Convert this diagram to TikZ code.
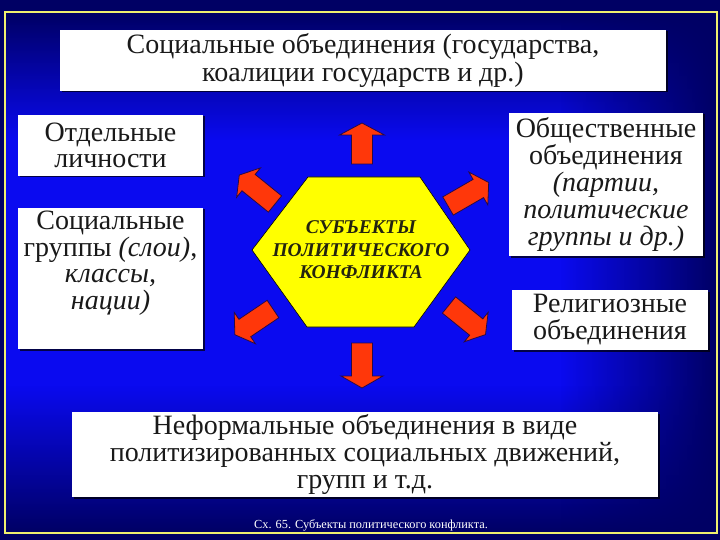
\documentclass[tikz,border=0pt]{standalone}
\usepackage{fontspec}
\setmainfont{Liberation Serif}
\usetikzlibrary{fadings,shadows}
\definecolor{navy}{RGB}{0,0,100}
\definecolor{bgblue}{RGB}{10,10,240}
\definecolor{frameyellow}{RGB}{240,240,110}
\definecolor{arrowred}{RGB}{255,55,10}
\definecolor{arrowedge}{RGB}{40,10,70}
\definecolor{hexyellow}{RGB}{255,255,0}
\definecolor{boxtext}{RGB}{25,25,25}
\definecolor{hexink}{RGB}{35,35,15}
\tikzfading[name=fadetop, top color=transparent!0, bottom color=transparent!100]
\tikzfading[name=fadebottom, top color=transparent!100, bottom color=transparent!0]
\tikzfading[name=faderight, left color=transparent!100, right color=transparent!0]
\tikzset{
  box/.style={fill=white, draw=none, inner sep=0pt, align=center, text=boxtext,
    font=\fontsize{28}{27}\selectfont,
    drop shadow={shadow xshift=1.5pt, shadow yshift=-1.5pt, fill=black, opacity=0.7}},
  boxtxt/.style={inner sep=0pt, align=center, text=boxtext, font=\fontsize{28}{26.5}\selectfont},
  hextext/.style={inner sep=0pt, align=center, font=\fontsize{19.5}{22.5}\selectfont\bfseries\itshape},
  pics/blockarr/.style n args={2}{code={
    \filldraw[fill=arrowred, draw=arrowedge, line width=0.8pt, line join=miter]
      (0,-10.5) -- ({#1-12},-10.5) -- ({#1-12},{-#2/2}) -- (#1,0) -- ({#1-12},{#2/2})
      -- ({#1-12},10.5) -- (0,10.5) -- cycle;
  }}
}
\begin{document}
\begin{tikzpicture}[x=1pt,y=-1pt]
\useasboundingbox (0,0) rectangle (720,540);
% background
\fill[navy] (0,0) rectangle (720,540);
\fill[bgblue] (5,12) rectangle (717,533);
\fill[navy, path fading=fadetop] (5,12) rectangle (717,140);
\fill[navy, path fading=fadebottom] (5,385) rectangle (717,533);
\fill[navy, path fading=faderight] (560,12) rectangle (717,533);
\draw[frameyellow, line width=1.8pt] (5,12) rectangle (717,533);

% boxes
\node[box, minimum width=606pt, minimum height=61pt, font=\fontsize{28}{28}\selectfont] (top) at (363,60.5)
  {Социальные объединения (государства,\\ коалиции государств и др.)};
\node[box, minimum width=185pt, minimum height=61pt, font=\fontsize{28}{26}\selectfont] (lp) at (110.5,145.5)
  {Отдельные\\ личности};
\node[box, minimum width=185pt, minimum height=141pt] (lg) at (110.5,278.5) {};
\node[boxtxt, anchor=north] (lgt) at ([yshift=-3pt]lg.north)
  {Социальные\\ группы \textit{(слои)},\\ \textit{классы,}\\ \textit{нации)}};
\node[box, minimum width=194pt, minimum height=143pt] (ro) at (606,184.5)
  {Общественные\\ объединения\\ \textit{(партии,}\\ \textit{политические}\\ \textit{группы и др.)}};
\node[box, minimum width=196pt, minimum height=60pt] (rr) at (610,320)
  {Религиозные\\ объединения};
\node[box, minimum width=586pt, minimum height=85pt] (bot) at (365,454.5)
  {Неформальные объединения в виде\\ политизированных социальных движений,\\ групп и т.д.};

% arrows
\pic[rotate=90] at (362,164) {blockarr={41}{45}};
\pic[rotate=-90] at (362,343) {blockarr={45}{42}};
\pic[rotate=141] at (275,204) {blockarr={46}{38}};
\pic[rotate=30] at (448,206) {blockarr={47}{38}};
\pic[rotate=214] at (273,309) {blockarr={46}{38}};
\pic[rotate=-39] at (449,305) {blockarr={47}{38}};

% hexagon
\filldraw[fill=hexyellow, draw=black, line width=0.6pt]
  (252,250) -- (308,177) -- (420,177) -- (470,250) -- (414,327) -- (307,327) -- cycle;
\node[hextext, text=hexink] (hex) at (361,250) {СУБЪЕКТЫ\\ ПОЛИТИЧЕСКОГО\\ КОНФЛИКТА};

% caption
\node[inner sep=0pt, text=white, font=\fontsize{12.3}{14}\selectfont] (cap) at (371,525)
  {Сх. 65. Субъекты политического конфликта.};
\end{tikzpicture}
\end{document}
